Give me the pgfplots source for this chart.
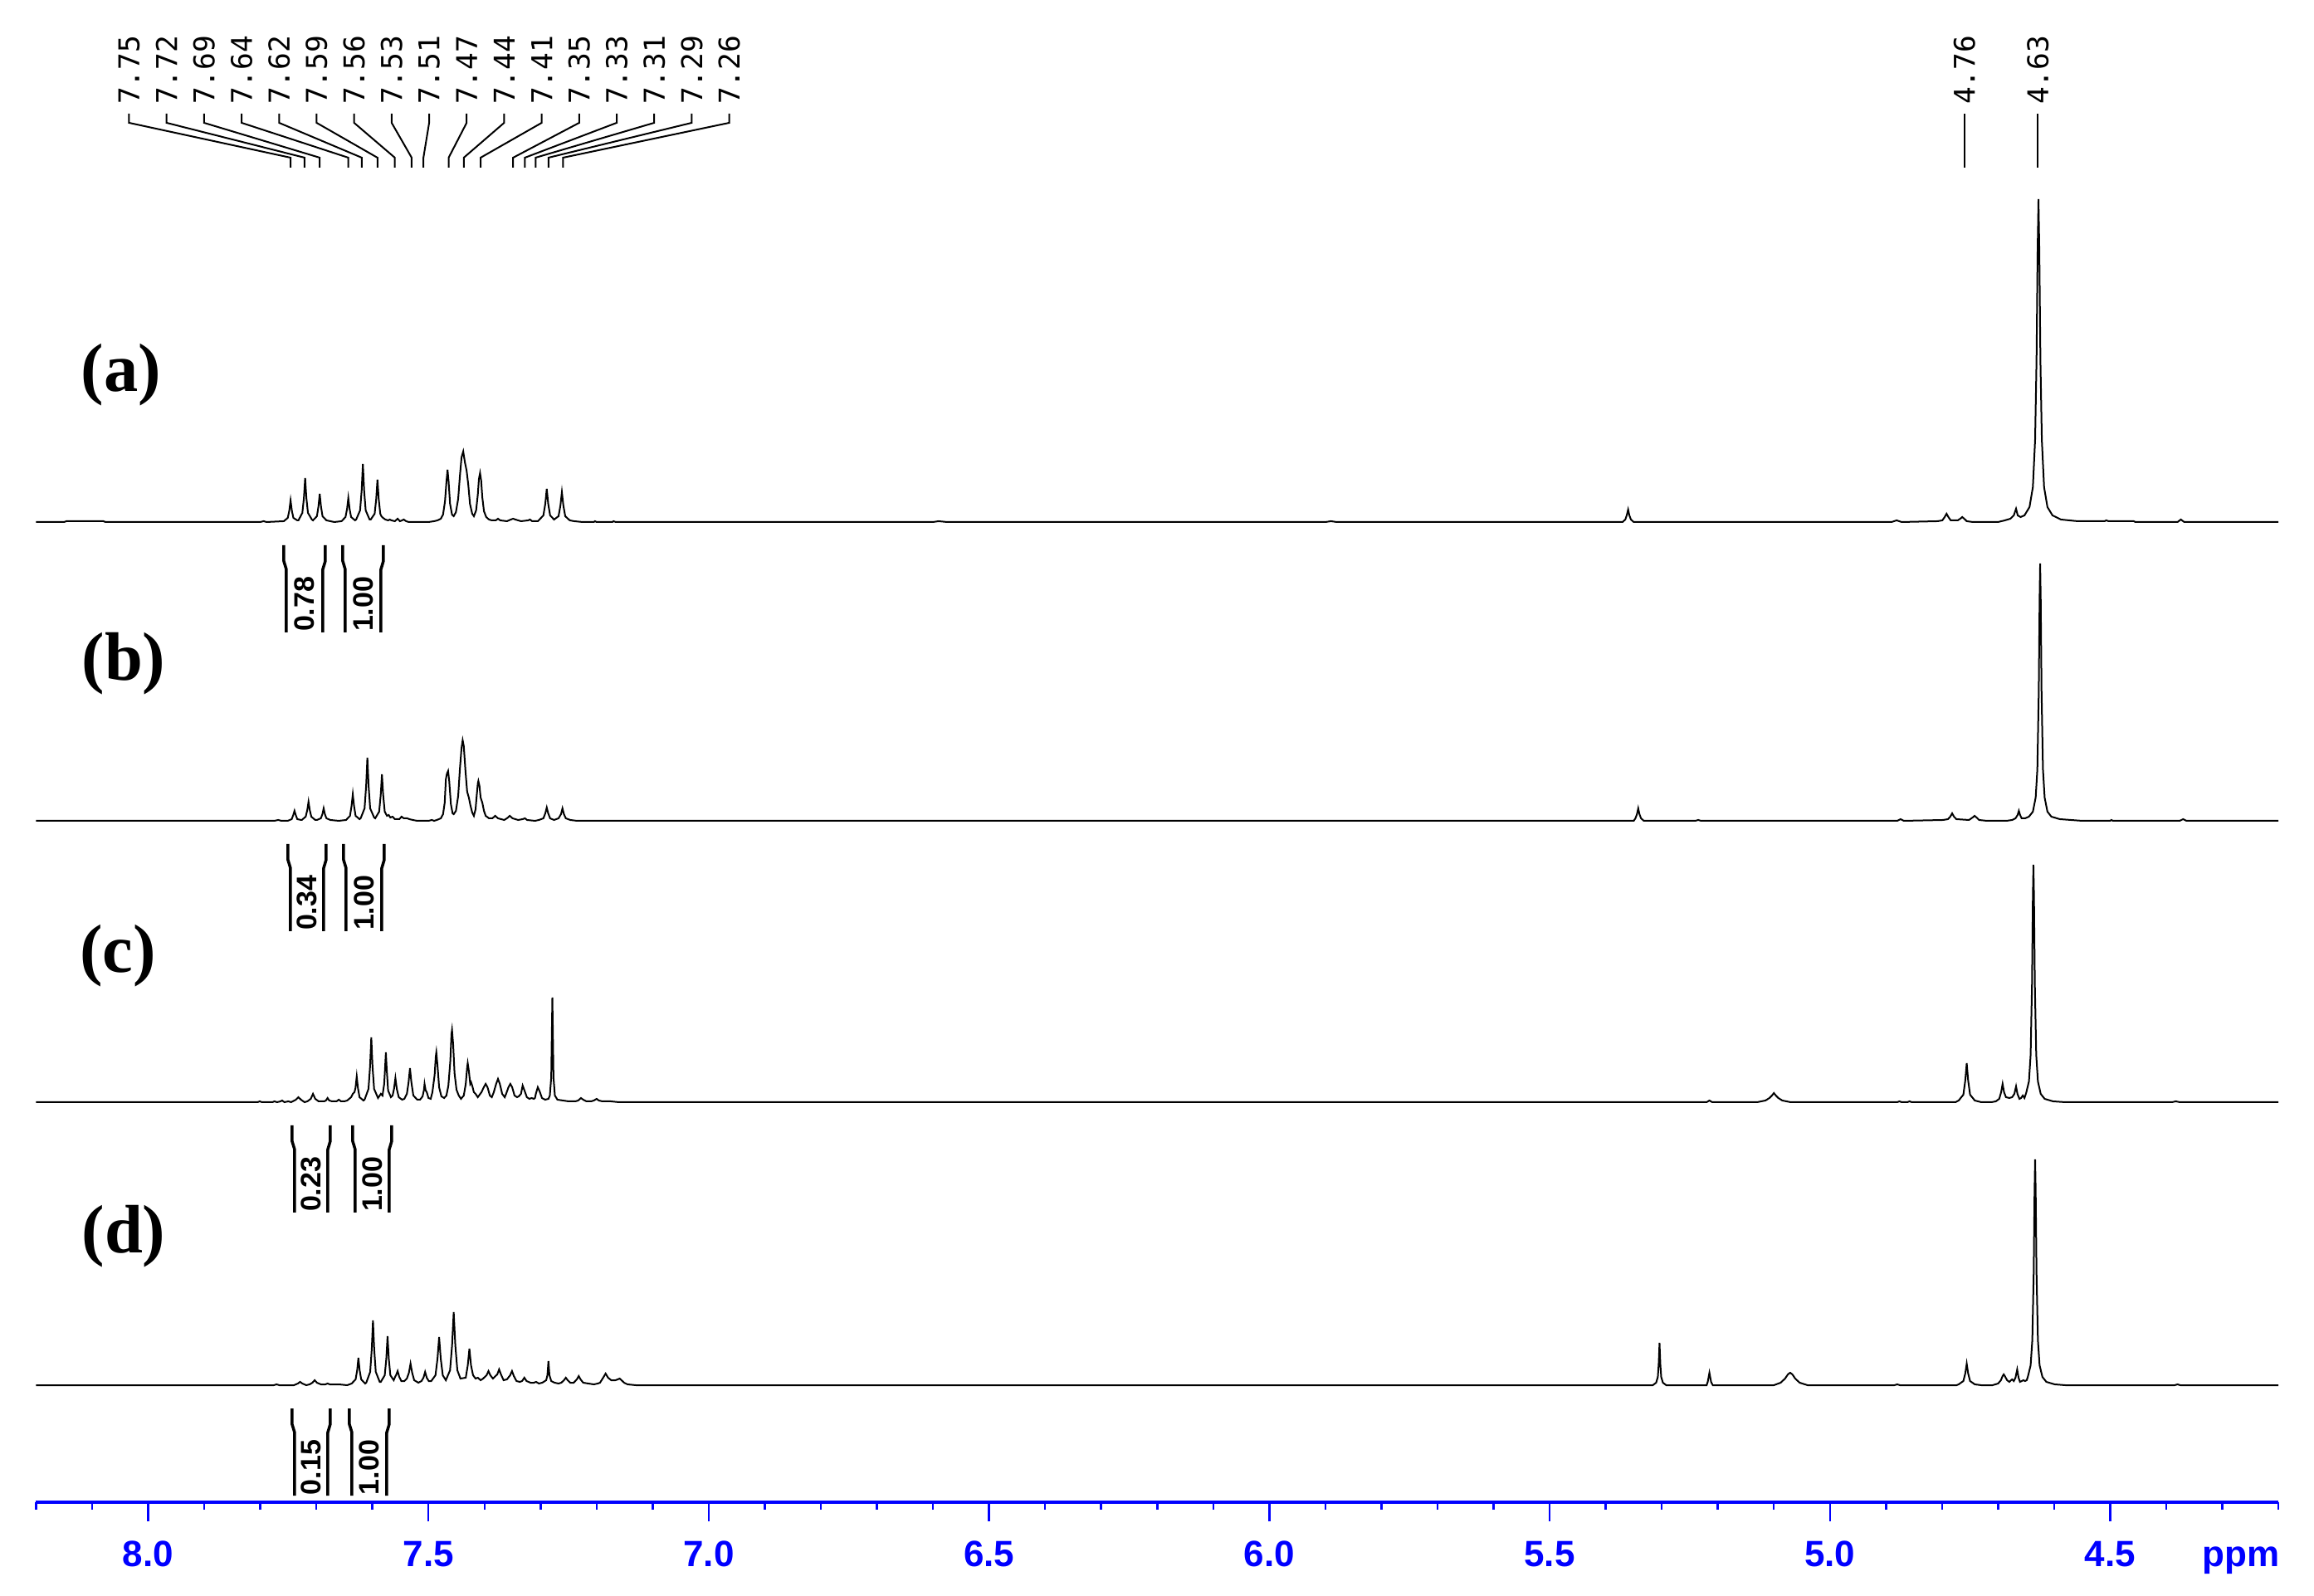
\documentclass[border=0pt]{standalone}
\usepackage{fontspec}
\setmainfont{Liberation Sans}
\newfontfamily\labmono{DejaVu Sans Mono}
\newfontfamily\labserif{Liberation Serif}
\usepackage{pgfplots}
\pgfplotsset{compat=1.18}
\definecolor{axblue}{rgb}{0,0,1}

% peak label: label position, peak position, text
\newcommand{\plab}[3]{%
  \draw[line width=0.4pt] (axis cs:#1,1785) -- (axis cs:#1,1774) -- (axis cs:#2,1732) -- (axis cs:#2,1720);
  \node[rotate=90, anchor=west, inner sep=0pt, font=\labmono\fontsize{6.9}{7}\selectfont] at (axis cs:#1,1795) {#3};}
% integral bracket side: x top, x low, y top, y kink1, y kink2, y bottom
\newcommand{\bline}[6]{%
  \draw[line width=0.7pt] (axis cs:#1,#3) -- (axis cs:#1,#4) -- (axis cs:#2,#5) -- (axis cs:#2,#6);}
\newcommand{\ival}[3]{%
  \node[rotate=90, anchor=west, inner sep=0pt, font=\bfseries\fontsize{6.8}{7}\selectfont] at (axis cs:#1,#2) {#3};}

\begin{document}
\begin{tikzpicture}
\begin{axis}[
    scale only axis,
    width=540.32pt, height=362pt,
    xmin=4.2, xmax=8.2, x dir=reverse,
    ymin=112, ymax=1922,
    axis x line*=bottom, axis y line=none,
    x axis line style={axblue, line width=0.75pt},
    xtick={4.5,5.0,5.5,6.0,6.5,7.0,7.5,8.0},
    xticklabels={4.5,5.0,5.5,6.0,6.5,7.0,7.5,8.0},
    minor xtick={4.2,4.3,4.4,4.6,4.7,4.8,4.9,5.1,5.2,5.3,5.4,5.6,5.7,5.8,5.9,6.1,6.2,6.3,6.4,6.6,6.7,6.8,6.9,7.1,7.2,7.3,7.4,7.6,7.7,7.8,7.9,8.1,8.2},
    ytick=\empty,
    tick align=outside,
    major tick length=4.6pt, minor tick length=1.8pt,
    tick style={axblue, line width=0.5pt},
    xticklabel style={font=\bfseries\fontsize{8.8}{10}\selectfont, text=axblue, anchor=north, inner sep=0pt, yshift=-4.6pt},
    clip=false,
]
\path (axis cs:8.2644,0) rectangle (axis cs:4.1365,1922);

% (a)
\addplot[black, line width=0.4pt, no markers, y filter/.expression={y+1293}] coordinates {
(8.200,0) (8.150,0) (8.146,1) (8.080,1) (8.076,0) (7.800,0) (7.794,1) (7.789,0)
(7.758,1) (7.751,5) (7.7482,14) (7.746,26) (7.7438,14) (7.741,5) (7.734,2)
(7.732,2) (7.725,11) (7.7222,29) (7.720,53) (7.7178,29) (7.715,11) (7.708,3)
(7.706,2) (7.699,7) (7.6962,19) (7.694,34) (7.6918,19) (7.689,7) (7.682,2)
(7.675,1) (7.668,0)
(7.655,1) (7.648,6) (7.6452,16) (7.643,29) (7.6408,16) (7.638,6) (7.631,2)
(7.629,3) (7.622,14) (7.6192,38) (7.617,70) (7.6148,38) (7.612,14) (7.605,3)
(7.603,3) (7.596,10) (7.5932,28) (7.591,51) (7.5888,28) (7.586,10) (7.584,7) (7.581,5) (7.577,3)
(7.572,2) (7.569,3) (7.566,2) (7.560,1) (7.555,4) (7.551,1) (7.547,2) (7.544,3) (7.540,1) (7.535,0)
(7.500,0) (7.490,1) (7.484,2)
(7.478,4) (7.474,9) (7.4705,25) (7.468,48) (7.466,63) (7.464,48) (7.4615,22) (7.458,9) (7.455,7)
(7.451,12) (7.447,28) (7.444,55) (7.441,78) (7.438,85) (7.435,72) (7.432,62) (7.429,45) (7.426,22) (7.422,10) (7.419,7)
(7.415,14) (7.412,33) (7.410,52) (7.408,59) (7.406,50) (7.404,30) (7.401,13) (7.397,6) (7.392,3) (7.387,2)
(7.380,2) (7.376,4) (7.372,2) (7.360,1) (7.353,3) (7.349,4) (7.345,3) (7.335,1) (7.322,2) (7.319,3) (7.315,1) (7.305,1)
(7.3034,2) (7.295,8) (7.2916,22) (7.289,40) (7.2864,22) (7.283,8) (7.276,3)
(7.268,7) (7.2646,20) (7.262,36) (7.2594,20) (7.256,7) (7.248,2) (7.240,1) (7.225,0)
(7.205,0) (7.203,1) (7.200,0) (7.172,0) (7.170,1) (7.166,0)
(6.600,0) (6.590,1) (6.575,0) (5.900,0) (5.890,1) (5.880,0)
(5.370,0) (5.365,3) (5.3625,8) (5.360,15) (5.3578,8) (5.355,3) (5.350,0)
(4.890,0) (4.881,2) (4.872,0)
(4.808,1) (4.7995,2) (4.7953,6) (4.792,10) (4.7887,6) (4.7845,2)
(4.772,2) (4.7675,4) (4.764,6) (4.7605,4) (4.756,1) (4.745,0)
(4.700,0) (4.688,2) (4.678,4) (4.672,8) (4.668,16) (4.665,8) (4.660,6) (4.653,8) (4.644,18) (4.638,42)
(4.634,99) (4.6315,194) (4.6295,329) (4.628,389) (4.6265,329) (4.6245,194) (4.622,99) (4.618,42) (4.612,18)
(4.603,8) (4.588,3) (4.558,1) (4.520,1)
(4.510,1) (4.507,2) (4.503,1) (4.460,1) (4.458,1) (4.455,0) (4.380,0) (4.374,3) (4.368,0) (4.200,0)
};

% (b)
\addplot[black, line width=0.4pt, no markers, y filter/.expression={y+933}] coordinates {
(8.200,0) (7.775,0) (7.768,1) (7.762,0)
(7.751,0) (7.744,2) (7.7412,7) (7.739,12) (7.7368,7) (7.734,2) (7.727,1)
(7.726,1) (7.719,5) (7.7162,13) (7.714,23) (7.7118,13) (7.709,5) (7.702,1)
(7.699,1) (7.692,3) (7.6892,8) (7.687,15) (7.6848,8) (7.682,3) (7.675,1) (7.660,0)
(7.647,1) (7.640,6) (7.6372,18) (7.635,32) (7.6328,18) (7.630,6) (7.623,2)
(7.621,3) (7.614,15) (7.6112,42) (7.609,76) (7.6068,42) (7.604,15) (7.597,4)
(7.595,3) (7.588,11) (7.5852,31) (7.583,56) (7.5808,31) (7.578,11)
(7.574,6) (7.571,7) (7.568,4) (7.564,5) (7.560,2) (7.552,2) (7.548,5) (7.544,3) (7.538,3) (7.534,2) (7.528,1) (7.520,0)
(7.500,0) (7.494,1) (7.490,0)
(7.485,1) (7.478,3) (7.474,8) (7.471,22) (7.469,50) (7.467,57) (7.465,60) (7.463,48) (7.460,20) (7.457,9) (7.455,8)
(7.451,12) (7.447,30) (7.444,62) (7.441,88) (7.439,97) (7.437,90) (7.434,60) (7.431,35) (7.428,28) (7.425,18) (7.422,10) (7.419,6)
(7.416,14) (7.414,30) (7.412,45) (7.411,48) (7.409,42) (7.407,28) (7.404,22) (7.401,12) (7.398,6) (7.392,3)
(7.386,3) (7.381,6) (7.376,3) (7.365,1) (7.360,3) (7.355,6) (7.350,3) (7.340,1) (7.332,2) (7.328,3) (7.324,1) (7.310,0)
(7.303,1) (7.295,3) (7.2916,9) (7.289,16) (7.2864,9) (7.283,3) (7.276,1)
(7.268,3) (7.2636,8) (7.261,15) (7.2584,8) (7.255,3) (7.247,1) (7.235,0)
(5.350,0) (5.347,3) (5.3442,8) (5.342,15) (5.3398,8) (5.337,3) (5.332,0)
(5.240,0) (5.235,1) (5.230,0)
(4.880,0) (4.874,2) (4.868,0)
(4.798,1) (4.7895,2) (4.7853,5) (4.782,9) (4.7787,5) (4.7745,2)
(4.752,1) (4.7455,4) (4.742,6) (4.7385,4) (4.734,1) (4.720,0)
(4.685,0) (4.675,1) (4.669,3) (4.6652,7) (4.663,12) (4.6608,7) (4.658,3) (4.652,3) (4.645,5) (4.638,11)
(4.633,28) (4.630,62) (4.6275,155) (4.626,267) (4.625,310) (4.624,267) (4.6225,155) (4.620,62) (4.617,28)
(4.612,11) (4.605,5) (4.590,2) (4.570,1) (4.550,0)
(4.500,0) (4.498,1) (4.495,0) (4.376,0) (4.370,2) (4.364,0) (4.200,0)
};

% (c)
\addplot[black, line width=0.4pt, no markers, y filter/.expression={y+594}] coordinates {
(8.200,0) (7.805,0) (7.801,1) (7.797,0) (7.778,0) (7.775,1) (7.770,0) (7.764,1) (7.761,2) (7.757,0) (7.750,1) (7.745,0)
(7.7365,3) (7.732,6) (7.7275,3) (7.721,0)
(7.716,1) (7.710,4) (7.706,10) (7.702,4) (7.696,1)
(7.686,1) (7.683,2) (7.680,5) (7.677,2) (7.672,1)
(7.664,1) (7.660,3) (7.656,1) (7.650,1) (7.645,2)
(7.638,6) (7.635,10) (7.632,12) (7.6302,17) (7.628,31) (7.6258,17) (7.623,6) (7.616,2)
(7.614,3) (7.607,16) (7.6042,43) (7.602,78) (7.5998,43) (7.597,16) (7.590,5)
(7.587,8) (7.585,10) (7.582,8) (7.579,22) (7.5775,40) (7.576,60) (7.5745,40) (7.572,14) (7.567,6)
(7.564,8) (7.5615,16) (7.559,29) (7.5565,16) (7.553,6) (7.547,3)
(7.543,4) (7.5385,10) (7.5355,24) (7.533,41) (7.5305,24) (7.527,8) (7.520,3)
(7.515,3) (7.5105,7) (7.508,15) (7.507,22) (7.505,14) (7.503,12) (7.500,5) (7.496,4)
(7.493,12) (7.489,33) (7.487,55) (7.486,60) (7.484,45) (7.481,18) (7.477,7) (7.472,5)
(7.468,8) (7.4645,20) (7.461,50) (7.459,82) (7.458,87) (7.456,70) (7.4535,35) (7.450,15) (7.446,8) (7.442,4)
(7.437,8) (7.4335,22) (7.431,42) (7.430,47) (7.428,38) (7.4255,22) (7.424,24) (7.422,20) (7.419,12) (7.416,10) (7.412,6)
(7.4055,12) (7.4013,18) (7.398,22) (7.3947,18) (7.3905,8) (7.387,6)
(7.3835,12) (7.3793,22) (7.376,28) (7.3727,22) (7.3685,10) (7.364,6)
(7.3615,10) (7.3573,18) (7.354,22) (7.3507,18) (7.3465,8) (7.342,6) (7.339,7)
(7.335,10) (7.332,20) (7.3287,14) (7.3245,6) (7.320,4) (7.316,5) (7.312,4) (7.310,5)
(7.3085,10) (7.305,18) (7.3017,13) (7.2975,5) (7.292,3) (7.286,4)
(7.2835,8) (7.281,30) (7.280,80) (7.279,126) (7.278,80) (7.277,30) (7.2745,8) (7.270,3) (7.260,2) (7.250,1)
(7.238,1) (7.233,2) (7.228,5) (7.224,3) (7.218,1)
(7.210,1) (7.205,2) (7.200,4) (7.196,2) (7.190,1) (7.175,1) (7.160,0)
(5.220,0) (5.215,2) (5.210,0)
(5.130,0) (5.115,2) (5.108,5) (5.1035,8) (5.100,11) (5.0965,8) (5.092,5) (5.085,2) (5.070,0)
(4.880,0) (4.876,1) (4.872,0) (4.862,0) (4.858,1) (4.854,0)
(4.776,0) (4.7704,2) (4.762,9) (4.7586,26) (4.756,47) (4.7534,26) (4.750,9) (4.7416,2) (4.730,0)
(4.712,0) (4.704,1) (4.698,4) (4.6946,12) (4.692,22) (4.6894,12) (4.686,6) (4.680,5) (4.675,6) (4.671,10)
(4.668,19) (4.6655,10) (4.662,4) (4.659,5) (4.656,8) (4.653,5)
(4.650,11) (4.645,25) (4.642,57) (4.6395,143) (4.638,247) (4.637,286) (4.636,247) (4.6345,143) (4.632,57)
(4.629,25) (4.624,10) (4.617,4) (4.602,1) (4.580,0)
(4.390,0) (4.383,1) (4.376,0) (4.200,0)
};

% (d)
\addplot[black, line width=0.4pt, no markers, y filter/.expression={y+253}] coordinates {
(8.200,0) (7.776,0) (7.771,1) (7.766,0)
(7.740,0) (7.733,2) (7.729,4) (7.725,2) (7.718,0)
(7.712,1) (7.707,3) (7.703,6) (7.699,3) (7.692,1)
(7.684,1) (7.680,2) (7.676,1) (7.665,1) (7.660,1) (7.645,0)
(7.637,2) (7.630,7) (7.6272,18) (7.625,33) (7.6228,18) (7.620,7) (7.613,2)
(7.611,3) (7.604,16) (7.6012,43) (7.599,78) (7.5968,43) (7.594,16) (7.587,4)
(7.585,4) (7.578,12) (7.5752,32) (7.573,59) (7.5708,32) (7.568,12) (7.562,6)
(7.5595,10) (7.5579,12) (7.555,17) (7.5521,10) (7.5485,5) (7.543,5)
(7.5385,8) (7.5349,15) (7.532,26) (7.5291,15) (7.5255,6) (7.518,3)
(7.5125,5) (7.5089,9) (7.506,16) (7.5031,9) (7.4995,5) (7.495,5)
(7.4875,12) (7.4839,32) (7.481,58) (7.4781,32) (7.4745,12) (7.469,6)
(7.4615,18) (7.4579,48) (7.455,88) (7.4521,48) (7.4485,18) (7.443,8)
(7.4335,9) (7.4299,24) (7.427,44) (7.4241,24) (7.4205,12) (7.416,8) (7.412,9) (7.407,6)
(7.4025,8) (7.3963,12) (7.393,17) (7.3897,12) (7.385,8)
(7.3773,13) (7.374,19) (7.3707,13) (7.366,6) (7.360,7)
(7.3543,12) (7.351,17) (7.3477,11) (7.343,5) (7.337,4)
(7.333,5) (7.329,9) (7.325,5) (7.318,3) (7.312,3) (7.308,4) (7.303,2) (7.297,3)
(7.290,6) (7.2878,12) (7.286,29) (7.2842,12) (7.281,5) (7.275,3) (7.268,2)
(7.263,3) (7.2583,6) (7.255,9) (7.2517,6) (7.247,3) (7.241,3)
(7.2353,7) (7.232,11) (7.2287,7) (7.224,3) (7.215,2) (7.205,1) (7.198,2)
(7.194,3) (7.1884,9) (7.184,14) (7.1796,9) (7.174,6)
(7.1665,6) (7.1623,7) (7.159,8) (7.1557,6) (7.151,3) (7.145,1) (7.130,0)
(5.316,0) (5.310,3) (5.307,10) (5.3055,25) (5.304,51) (5.3025,25) (5.301,10) (5.298,3) (5.292,0)
(5.220,0) (5.218,4) (5.215,15) (5.212,4) (5.209,0)
(5.100,0) (5.088,3) (5.080,8) (5.075,13) (5.071,15) (5.067,13) (5.062,8) (5.054,3) (5.040,0)
(4.885,0) (4.880,1) (4.875,0)
(4.774,0) (4.7704,1) (4.762,5) (4.7586,14) (4.756,26) (4.7534,14) (4.750,5) (4.7416,1) (4.730,0)
(4.710,0) (4.700,2) (4.695,6) (4.692,11) (4.690,13) (4.688,11) (4.684,6) (4.680,4) (4.677,6) (4.675,7)
(4.672,5) (4.669,9) (4.666,19) (4.6635,9) (4.661,4) (4.658,5) (4.655,6) (4.652,5) (4.649,6)
(4.647,10) (4.642,24) (4.639,54) (4.6365,136) (4.635,234) (4.634,272) (4.633,234) (4.6315,136) (4.629,54)
(4.626,24) (4.621,10) (4.614,4) (4.599,1) (4.580,0)
(4.385,0) (4.380,1) (4.375,0) (4.200,0)
};

% sample labels
\node[font=\labserif\bfseries\fontsize{16.5}{18}\selectfont] at (axis cs:8.0483,1470) {(a)};
\node[font=\labserif\bfseries\fontsize{16.5}{18}\selectfont] at (axis cs:8.0438,1122) {(b)};
\node[font=\labserif\bfseries\fontsize{16.5}{18}\selectfont] at (axis cs:8.0542,770) {(c)};
\node[font=\labserif\bfseries\fontsize{16.5}{18}\selectfont] at (axis cs:8.0438,432) {(d)};

% peak picking
\plab{8.0342}{7.746}{7.75}
\plab{7.9673}{7.721}{7.72}
\plab{7.9004}{7.694}{7.69}
\plab{7.8334}{7.643}{7.64}
\plab{7.7665}{7.619}{7.62}
\plab{7.6996}{7.591}{7.59}
\plab{7.6327}{7.560}{7.56}
\plab{7.5657}{7.530}{7.53}
\plab{7.4988}{7.509}{7.51}
\plab{7.4319}{7.464}{7.47}
\plab{7.3650}{7.437}{7.44}
\plab{7.2980}{7.407}{7.41}
\plab{7.2311}{7.349}{7.35}
\plab{7.1642}{7.328}{7.33}
\plab{7.0973}{7.309}{7.31}
\plab{7.0303}{7.286}{7.29}
\plab{6.9634}{7.260}{7.26}
\plab{4.760}{4.760}{4.76}
\plab{4.629}{4.629}{4.63}

% integrals
\bline{7.7581}{7.7536}{1265}{1246}{1236}{1160}
\bline{7.6840}{7.6885}{1265}{1246}{1236}{1160}
\ival{7.7211}{1160}{0.78}
\bline{7.6529}{7.6485}{1265}{1246}{1236}{1160}
\bline{7.5804}{7.5848}{1265}{1246}{1236}{1160}
\ival{7.6167}{1160}{1.00}

\bline{7.7507}{7.7462}{905}{886}{876}{800}
\bline{7.6826}{7.6870}{905}{886}{876}{800}
\ival{7.7166}{800}{0.34}
\bline{7.6515}{7.6470}{905}{886}{876}{800}
\bline{7.5789}{7.5833}{905}{886}{876}{800}
\ival{7.6152}{800}{1.00}

\bline{7.7433}{7.7388}{566}{547}{537}{461}
\bline{7.6752}{7.6796}{566}{547}{537}{461}
\ival{7.7092}{461}{0.23}
\bline{7.6352}{7.6307}{566}{547}{537}{461}
\bline{7.5656}{7.5700}{566}{547}{537}{461}
\ival{7.6004}{461}{1.00}

\bline{7.7433}{7.7388}{225}{206}{196}{120}
\bline{7.6752}{7.6796}{225}{206}{196}{120}
\ival{7.7092}{120}{0.15}
\bline{7.6411}{7.6366}{225}{206}{196}{120}
\bline{7.5700}{7.5744}{225}{206}{196}{120}
\ival{7.6055}{120}{1.00}

\node[anchor=base, inner sep=0pt, text=axblue, font=\bfseries\fontsize{8.8}{10}\selectfont] at (axis cs:4.2668,112) [yshift=-15.4pt] {ppm};
\end{axis}
\end{tikzpicture}
\end{document}
